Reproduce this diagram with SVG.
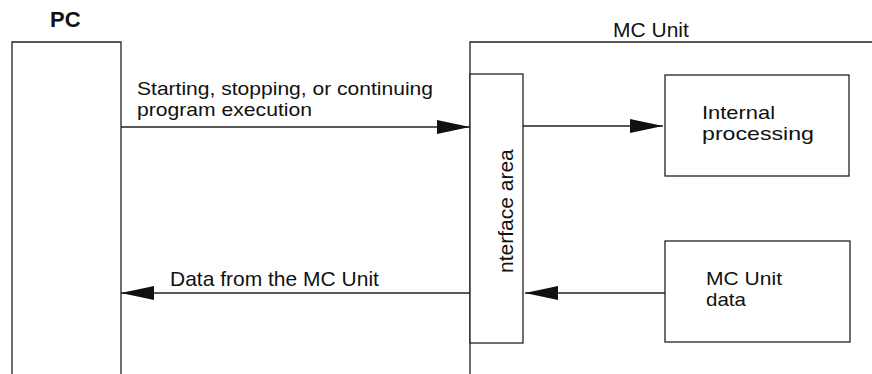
<svg xmlns="http://www.w3.org/2000/svg" width="872" height="374" viewBox="0 0 872 374">
<style>
.ln{fill:none;stroke:#222;stroke-width:1.3}
.bx{fill:#fff;stroke:#222;stroke-width:1.3}
text{font-family:"Liberation Sans",Arial,sans-serif;font-size:19px;fill:#111}
</style>
<defs>
<marker id="ah" markerWidth="33" markerHeight="14" refX="33" refY="7" orient="auto" markerUnits="userSpaceOnUse">
<path d="M0,0 L33,7 L0,14 Z" fill="#111"/>
</marker>
</defs>
<rect width="872" height="374" fill="#fff"/>
<g id="pc">
<path class="ln" d="M12,374 V42 H121 V374"/>
<text x="50" y="27" style="font-weight:bold;font-size:22px">PC</text>
</g>
<g id="mcunit">
<path class="ln" d="M470,374 V42 H872"/>
<text x="613" y="37" style="font-size:21px">MC Unit</text>
</g>
<g id="interface">
<rect class="bx" x="470" y="74" width="53" height="269"/>
<text transform="translate(513,273) rotate(-90)" style="font-size:21px">nterface area</text>
</g>
<g id="internal">
<rect class="bx" x="665" y="75" width="184" height="101"/>
<text x="702" y="119" textLength="73" lengthAdjust="spacingAndGlyphs">Internal</text>
<text x="702" y="140" textLength="112" lengthAdjust="spacingAndGlyphs">processing</text>
</g>
<g id="mcdata">
<rect class="bx" x="665" y="241" width="185" height="101"/>
<text x="706" y="285" textLength="76" lengthAdjust="spacingAndGlyphs">MC Unit</text>
<text x="706" y="306" textLength="40" lengthAdjust="spacingAndGlyphs">data</text>
</g>
<g id="connectors">
<line class="ln" x1="121" y1="127" x2="470" y2="127" marker-end="url(#ah)"/>
<line class="ln" x1="523" y1="126" x2="663" y2="126" marker-end="url(#ah)"/>
<line class="ln" x1="665" y1="293" x2="525" y2="293" marker-end="url(#ah)"/>
<line class="ln" x1="470" y1="293" x2="121" y2="293" marker-end="url(#ah)"/>
<text x="137" y="95" textLength="296" lengthAdjust="spacingAndGlyphs">Starting, stopping, or continuing</text>
<text x="137" y="116" textLength="175" lengthAdjust="spacingAndGlyphs">program execution</text>
<text x="170" y="286" style="font-size:21px">Data from the MC Unit</text>
</g>
</svg>
